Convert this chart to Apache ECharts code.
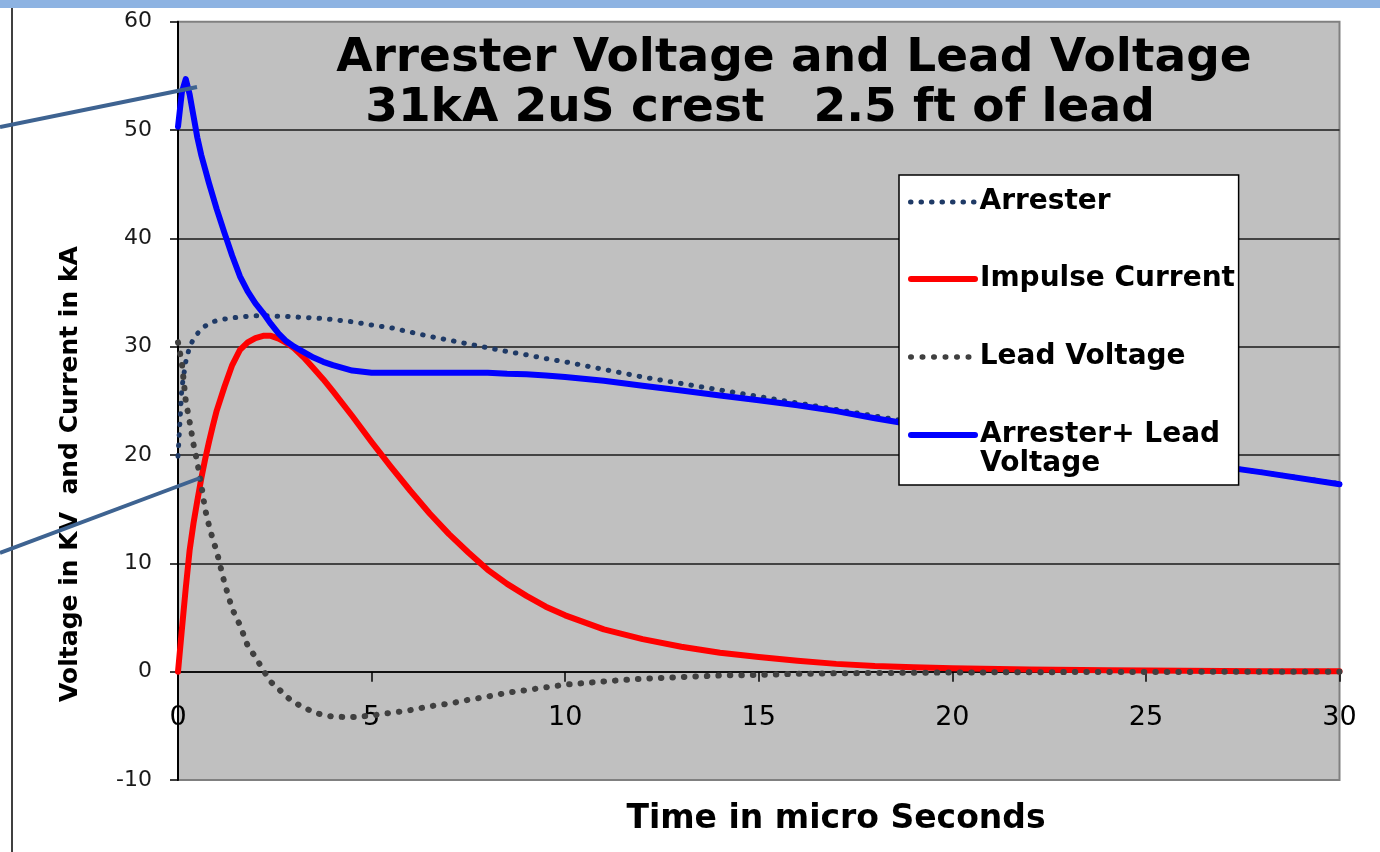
<!doctype html>
<html>
<head>
<meta charset="UTF-8">
<title>Arrester Voltage and Lead Voltage</title>
<script src="https://cdn.jsdelivr.net/npm/echarts@6/dist/echarts.min.js"></script>
<style>
	html, body { margin: 0; padding: 0; background: #fff; }
	#chart { width: 1380px; height: 852px; }
</style>
</head>
<body>
<div id="chart"></div>
<script type="text/javascript">
	// time axis, micro seconds
	var time = [0, 0.1, 0.2, 0.3, 0.4, 0.5, 0.6, 0.7, 0.8, 0.9, 1.0,
		1.2, 1.4, 1.6, 1.8, 2.0, 2.2, 2.4, 2.6, 2.8, 3.0,
		3.25, 3.5, 3.75, 4.0,
		4.5, 5, 5.5, 6, 6.5, 7, 7.5, 8, 8.5, 9, 9.5, 10,
		11, 12, 13, 14, 15, 16, 17, 18, 19, 20,
		22, 24, 26, 28, 30];
	// arrester voltage, kV
	var arrester = [19.9, 26.2, 28.6, 30.0, 30.7, 31.2, 31.6, 31.9, 32.1, 32.3, 32.4,
		32.55, 32.65, 32.75, 32.8, 32.85, 32.85, 32.85, 32.8, 32.8, 32.75,
		32.7, 32.65, 32.6, 32.5,
		32.3, 32.0, 31.75, 31.35, 30.95, 30.6, 30.25, 29.9, 29.55, 29.25, 28.9, 28.6,
		27.9, 27.2, 26.6, 26.0, 25.4, 24.8, 24.2, 23.6, 23.0, 22.4,
		21.4, 20.4, 19.4, 18.4, 17.35];
	// impulse current, kA
	var current = [0, 3.9, 7.7, 11.2, 13.7, 15.8, 17.8, 19.6, 21.2, 22.7, 24.1,
		26.3, 28.3, 29.7, 30.4, 30.8, 31.0, 31.0, 30.75, 30.35, 29.85,
		29.0, 28.0, 27.0, 25.9,
		23.6, 21.2, 18.9, 16.7, 14.6, 12.7, 11.0, 9.4, 8.1, 7.0, 6.0, 5.2,
		3.9, 3.0, 2.3, 1.75, 1.35, 1.0, 0.72, 0.52, 0.4, 0.32,
		0.2, 0.12, 0.08, 0.05, 0.03];
	// lead voltage, kV
	var lead = [30.4, 28.5, 25.0, 23.1, 21.0, 19.3, 17.3, 15.0, 13.5, 12.2, 11.1,
		8.2, 5.8, 4.3, 2.4, 1.35, 0.15, -0.95, -1.6, -2.3, -2.85,
		-3.3, -3.75, -4.0, -4.15,
		-4.2, -4.05, -3.8, -3.55, -3.2, -2.95, -2.6, -2.3, -1.95, -1.7, -1.45, -1.2,
		-0.9, -0.65, -0.5, -0.35, -0.3, -0.2, -0.15, -0.12, -0.1, -0.08,
		-0.05, -0.03, -0.02, -0.01, 0];
	// arrester + lead voltage, kV
	var total = [50.3, 53.5, 54.7, 53.3, 51.3, 49.3, 47.7, 46.4, 45.1, 43.9, 42.7,
		40.5, 38.4, 36.5, 35.1, 34.0, 33.1, 32.1, 31.2, 30.5, 30.0,
		29.5, 29.0, 28.6, 28.3,
		27.8, 27.6, 27.6, 27.6, 27.6, 27.6, 27.6, 27.6, 27.5, 27.45, 27.35, 27.2,
		26.85, 26.4, 25.95, 25.5, 25.05, 24.6, 24.05, 23.4, 22.8, 22.3,
		21.3, 20.35, 19.4, 18.4, 17.3];

	var seriesNames = ['Arrester', 'Impulse Current', 'Lead Voltage', 'Arrester+ Lead Voltage'];
	var xTicks = [0, 5, 10, 15, 20, 25, 30];
	var yTicks = [-10, 0, 10, 20, 30, 40, 50, 60];

	var FONT = 'DejaVu Sans';

	function pairs(values) {
		var out = [];
		for (var i = 0; i < time.length; i++) {
			out.push([time[i], values[i]]);
		}
		return out;
	}

	// one legend per entry so the rows can sit where the original has them
	function legendFor(name, top, width, extra) {
		var lg = {
			orient: 'vertical',
			left: 908,
			top: top,
			padding: 0,
			itemWidth: 64,
			itemHeight: 14,
			selectedMode: false,
			data: [name],
			lineStyle: { width: width },
			itemStyle: { color: 'rgba(0,0,0,0)', borderWidth: 0, opacity: 0 },
			textStyle: {
				fontFamily: FONT,
				fontWeight: 'bold',
				fontSize: 28,
				color: '#000',
				lineHeight: 30
			}
		};
		if (extra) {
			for (var k in extra) lg[k] = extra[k];
		}
		return lg;
	}

	var chart = echarts.init(document.getElementById('chart'));
	var option = {
		animation: false,
		backgroundColor: '#fff',
		title: [{
			text: 'Arrester Voltage and Lead Voltage',
			left: 794,
			top: 35,
			padding: 0,
			textAlign: 'center',
			textStyle: { fontFamily: FONT, fontWeight: 'bold', fontSize: 47, color: '#000' }
		}, {
			text: '31kA 2uS crest   2.5 ft of lead',
			left: 760,
			top: 85,
			padding: 0,
			textAlign: 'center',
			textStyle: { fontFamily: FONT, fontWeight: 'bold', fontSize: 47, color: '#000' }
		}],
		legend: [
			// first one also paints the white legend frame
			legendFor(seriesNames[0], 175, 5, {
				left: 899,
				padding: [12, 128, 268, 9],
				backgroundColor: '#fff',
				borderColor: '#000',
				borderWidth: 1.5
			}),
			legendFor(seriesNames[1], 264, 6),
			legendFor(seriesNames[2], 342, 5.5),
			legendFor(seriesNames[3], 391.5, 6, {
				formatter: function() { return '\nArrester+ Lead\nVoltage'; },
				textStyle: {
					fontFamily: FONT,
					fontWeight: 'bold',
					fontSize: 28,
					color: '#000',
					lineHeight: 29
				}
			})
		],
		grid: {
			left: 178,
			right: 40.5,
			top: 21.7,
			bottom: 72,
			show: true,
			backgroundColor: '#c0c0c0',
			borderColor: '#808080',
			borderWidth: 2,
			containLabel: false,
			outerBoundsMode: 'none'
		},
		xAxis: {
			type: 'value',
			min: xTicks[0],
			max: xTicks[xTicks.length - 1],
			interval: 5,
			axisLine: { show: true, onZero: true, lineStyle: { color: '#000', width: 1.5 } },
			axisTick: { show: true, length: 10, lineStyle: { color: '#000', width: 1.5 } },
			axisLabel: { margin: -76, fontFamily: FONT, fontSize: 27, color: '#000' },
			splitLine: { show: false }
		},
		yAxis: {
			type: 'value',
			min: yTicks[0],
			max: yTicks[yTicks.length - 1],
			interval: 10,
			axisLine: { show: true, onZero: false, lineStyle: { color: '#000', width: 2 } },
			axisTick: { show: true, length: 8, lineStyle: { color: '#000', width: 1.5 } },
			axisLabel: { margin: 26, fontFamily: FONT, fontSize: 22, color: '#1a1a1a' },
			splitLine: { show: true, showMinLine: false, showMaxLine: false, lineStyle: { color: '#1a1a1a', width: 1.5 } }
		},
		series: [{
			name: seriesNames[0],
			type: 'line',
			z: 2,
			symbol: 'none',
			data: pairs(arrester),
			lineStyle: { color: '#1f3a66', width: 5, type: [0.5, 10], cap: 'round', join: 'round' },
			itemStyle: { color: '#1f3a66' }
		}, {
			name: seriesNames[1],
			type: 'line',
			z: 2,
			symbol: 'none',
			data: pairs(current),
			lineStyle: { color: '#ff0000', width: 6, cap: 'round', join: 'round' },
			itemStyle: { color: '#ff0000' }
		}, {
			name: seriesNames[2],
			type: 'line',
			z: 2,
			symbol: 'none',
			data: pairs(lead),
			lineStyle: { color: '#404040', width: 6, type: [0.5, 11], cap: 'round', join: 'round' },
			itemStyle: { color: '#404040' }
		}, {
			name: seriesNames[3],
			type: 'line',
			z: 2,
			symbol: 'none',
			data: pairs(total),
			lineStyle: { color: '#0000ff', width: 6, cap: 'round', join: 'round' },
			itemStyle: { color: '#0000ff' }
		}],
		graphic: [
			// slide decorations
			{ type: 'rect', z: 10, shape: { x: 0, y: 0, width: 1380, height: 8 }, style: { fill: '#8db3e2' } },
			{ type: 'line', z: 10, shape: { x1: 12, y1: 8, x2: 12, y2: 852 }, style: { stroke: '#000', lineWidth: 1.5 } },
			// callout lines
			{ type: 'line', z: 20, shape: { x1: 0, y1: 127, x2: 197, y2: 87 }, style: { stroke: '#3e6391', lineWidth: 4 } },
			{ type: 'line', z: 20, shape: { x1: 0, y1: 553, x2: 200, y2: 478 }, style: { stroke: '#3e6391', lineWidth: 4 } },
			// axis names
			{ type: 'text', z: 5, x: 70, y: 474, rotation: Math.PI / 2,
				style: { text: 'Voltage in KV  and Current in kA', fontFamily: FONT, fontWeight: 'bold', fontSize: 25,
					fill: '#000', align: 'center', verticalAlign: 'middle' } },
			{ type: 'text', z: 5, x: 836, y: 819,
				style: { text: 'Time in micro Seconds', fontFamily: FONT, fontWeight: 'bold', fontSize: 33,
					fill: '#000', align: 'center', verticalAlign: 'middle' } }
		]
	};
	chart.setOption(option);
</script>
</body>
</html>
